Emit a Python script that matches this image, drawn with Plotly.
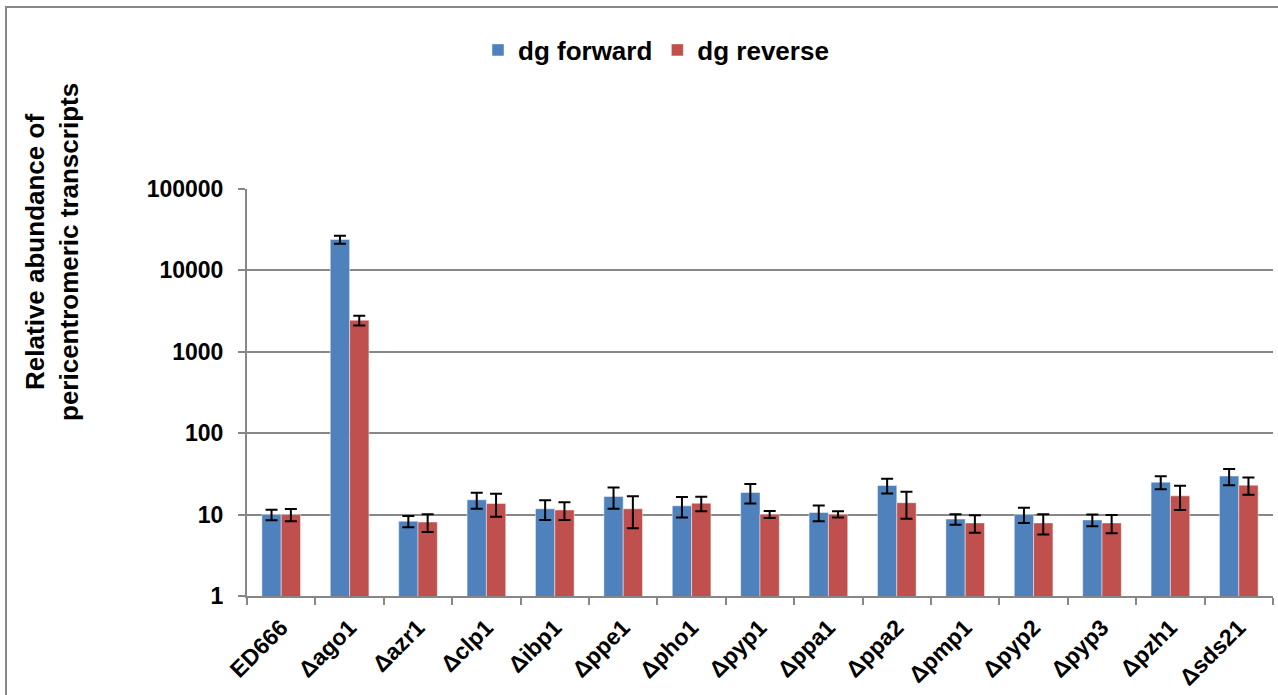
import plotly.graph_objects as go

# Strains and relative transcript levels (log scale), with standard deviations
strains = ["ED666", "Δago1", "Δazr1", "Δclp1", "Δibp1", "Δppe1", "Δpho1", "Δpyp1",
           "Δppa1", "Δppa2", "Δpmp1", "Δpyp2", "Δpyp3", "Δpzh1", "Δsds21"]
dg_forward = [10.0, 24000, 8.3, 15.2, 11.8, 16.7, 12.8, 18.7, 10.6, 22.8, 8.8, 10.0, 8.6, 25.0, 29.7]
dg_forward_err = [1.5, 2700, 1.3, 3.4, 3.2, 4.9, 3.6, 5.0, 2.3, 4.7, 1.3, 2.1, 1.4, 4.5, 6.7]
dg_reverse = [10.0, 2440, 8.1, 13.7, 11.4, 11.8, 13.8, 10.1, 10.1, 14.0, 7.9, 7.9, 7.9, 17.0, 23.0]
dg_reverse_err = [1.7, 330, 2.0, 4.3, 2.8, 5.0, 2.8, 1.0, 0.9, 5.1, 1.9, 2.2, 2.0, 5.6, 5.5]
y_ticks = [1, 10, 100, 1000, 10000, 100000]

FONT = "Liberation Sans, Arial, sans-serif"
GRID = "#878787"

fig = go.Figure()
fig.add_trace(go.Bar(
    name="dg forward", x=strains, y=dg_forward,
    marker=dict(color="#4F81BD", line=dict(color="rgba(255,255,255,0.45)", width=1)),
    error_y=dict(type="data", array=dg_forward_err, visible=True,
                 color="black", thickness=2, width=6),
))
fig.add_trace(go.Bar(
    name="dg reverse", x=strains, y=dg_reverse,
    marker=dict(color="#C0504D", line=dict(color="rgba(255,255,255,0.45)", width=1)),
    error_y=dict(type="data", array=dg_reverse_err, visible=True,
                 color="black", thickness=2, width=6),
))

W, H = 1278, 695
L, R, T, B = 247, 5, 189, 99
pw, ph = W - L - R, H - T - B


def px_x(p):
    return (p - L) / pw


def px_y(p):
    return (H - B - p) / ph


fig.update_layout(
    width=W, height=H,
    margin=dict(l=L, r=R, t=T, b=B, autoexpand=False),
    paper_bgcolor="white", plot_bgcolor="white",
    barmode="group", bargap=0.435, bargroupgap=0.0,
    font=dict(family=FONT, color="black", weight="bold"),
    showlegend=True,
    legend=dict(orientation="h", x=px_x(656), y=px_y(50), xanchor="center", yanchor="middle",
                font=dict(family=FONT, size=26, color="black", weight="bold"),
                itemwidth=30, bgcolor="rgba(0,0,0,0)"),
    xaxis=dict(
        type="category", tickangle=-45, automargin=False,
        showline=True, linecolor=GRID, linewidth=2,
        ticks="outside", tickson="boundaries", ticklen=7, tickcolor=GRID, tickwidth=2,
        ticklabelstandoff=7,
        tickfont=dict(family=FONT, size=23, color="black", weight="bold"),
        showgrid=False, zeroline=False,
    ),
    yaxis=dict(
        type="log", range=[0, 5], automargin=False,
        tickmode="array", tickvals=y_ticks, ticktext=[str(v) for v in y_ticks],
        showline=True, linecolor=GRID, linewidth=2,
        ticks="outside", ticklen=7, tickcolor=GRID, tickwidth=2,
        ticklabelstandoff=10,
        tickfont=dict(family=FONT, size=23, color="black", weight="bold"),
        showgrid=True, gridcolor=GRID, gridwidth=2, zeroline=False,
    ),
    shapes=[
        # outer chart frame
        dict(type="rect", xref="paper", yref="paper",
             x0=px_x(6), x1=px_x(W + 20), y0=px_y(H + 20), y1=px_y(7),
             line=dict(color=GRID, width=2), fillcolor="rgba(0,0,0,0)", layer="below"),
    ],
    annotations=[
        dict(text="Relative abundance of<br>pericentromeric transcripts",
             xref="paper", yref="paper", x=px_x(52), y=px_y(252),
             xanchor="center", yanchor="middle", textangle=-90, showarrow=False,
             font=dict(family=FONT, size=26, color="black", weight="bold")),
    ],
)

fig.write_html("out.html")
